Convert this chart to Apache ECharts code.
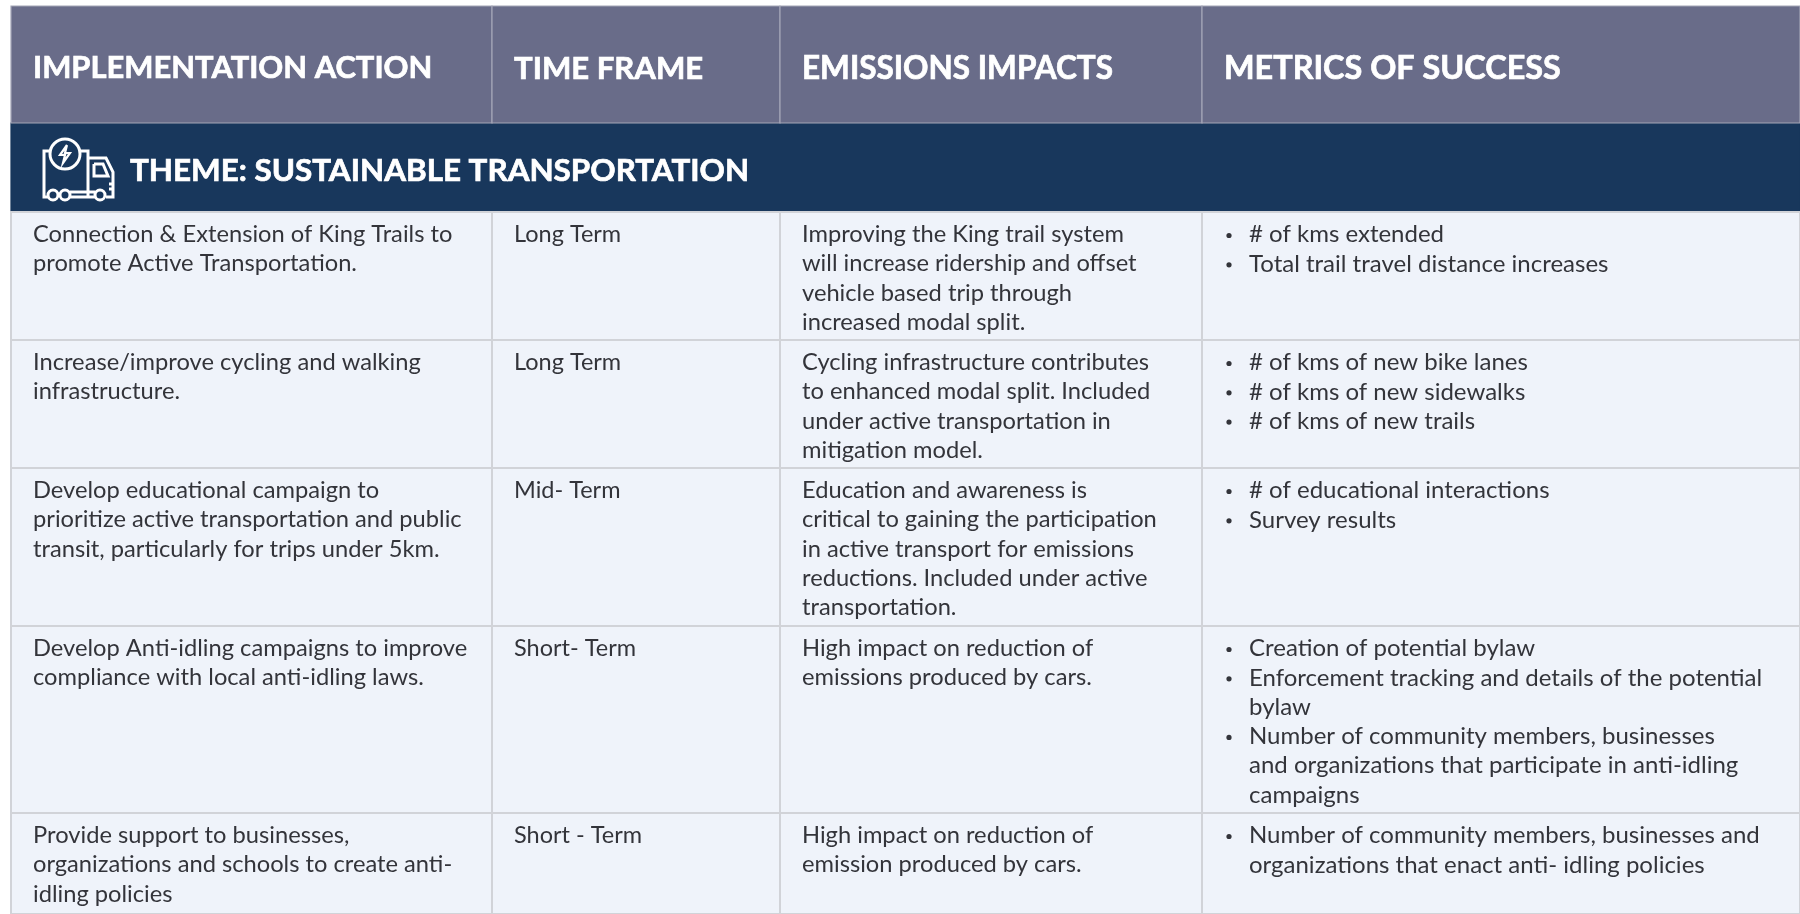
<!DOCTYPE html>
<html>
<head>
<meta charset="utf-8">
<style>html,body{margin:0;padding:0;background:#fff}#main{width:1800px;height:914px}</style>
<script src="https://cdn.jsdelivr.net/npm/echarts@6/dist/echarts.min.js"></script>
</head>
<body>
<div id="main"></div>
<script>
// table content, one string per printed line
var headers = ['IMPLEMENTATION ACTION', 'TIME FRAME', 'EMISSIONS IMPACTS', 'METRICS OF SUCCESS'];
var themeTitle = 'THEME: SUSTAINABLE TRANSPORTATION';
var actions = [
    ['Connection & Extension of King Trails to', 'promote Active Transportation.'],
    ['Increase/improve cycling and walking', 'infrastructure.'],
    ['Develop educational campaign to', 'prioritize active transportation and public', 'transit, particularly for trips under 5km.'],
    ['Develop Anti-idling campaigns to improve', 'compliance with local anti-idling laws.'],
    ['Provide support to businesses,', 'organizations and schools to create anti-', 'idling policies']
];
var timeFrames = [['Long Term'], ['Long Term'], ['Mid- Term'], ['Short- Term'], ['Short - Term']];
var impacts = [
    ['Improving the King trail system', 'will increase ridership and offset', 'vehicle based trip through', 'increased modal split.'],
    ['Cycling infrastructure contributes', 'to enhanced modal split. Included', 'under active transportation in', 'mitigation model.'],
    ['Education and awareness is', 'critical to gaining the participation', 'in active transport for emissions', 'reductions. Included under active', 'transportation.'],
    ['High impact on reduction of', 'emissions produced by cars.'],
    ['High impact on reduction of', 'emission produced by cars.']
];
// a leading "* " marks a bulleted line
var metrics = [
    ['* # of kms extended', '* Total trail travel distance increases'],
    ['* # of kms of new bike lanes', '* # of kms of new sidewalks', '* # of kms of new trails'],
    ['* # of educational interactions', '* Survey results'],
    ['* Creation of potential bylaw', '* Enforcement tracking and details of the potential', 'bylaw', '* Number of community members, businesses', 'and organizations that participate in anti-idling', 'campaigns'],
    ['* Number of community members, businesses and', 'organizations that enact anti- idling policies']
];

// layout
var colEdges = [11, 492, 780, 1202, 1800];
var rowEdges = [6, 123, 212, 340, 468, 626, 813, 914];
var textPad = 22;
var lineGap = 29.3;
var bodyFonts = ['23.7px Lato, sans-serif', '23.5px Lato, sans-serif', '23.7px Lato, sans-serif', '24px Lato, sans-serif'];
var headFonts = ['bold 30.9px Lato, sans-serif', 'bold 31.1px Lato, sans-serif', 'bold 31.5px Lato, sans-serif', 'bold 32.4px Lato, sans-serif'];
var themeFont = 'bold 31.4px Lato, sans-serif';

var myChart = echarts.init(document.getElementById('main'), null, {renderer: 'canvas'});

// [col, row, kind, lines], theme first so the header border stays on top of it
var cells = [[0, 1, 'theme', [themeTitle]]];
headers.forEach(function (h, c) { cells.push([c, 0, 'head', [h]]); });
[actions, timeFrames, impacts, metrics].forEach(function (col, c) {
    col.forEach(function (lines, r) { cells.push([c, r + 2, 'body', lines]); });
});

function renderCell(params, api) {
    var d = cells[params.dataIndex];
    var c = d[0], r = d[1], kind = d[2], lines = d[3];
    var colEnd = kind === 'theme' ? 4 : c + 1;
    var tl = api.coord([colEdges[c], rowEdges[r]]);
    var br = api.coord([colEdges[colEnd], rowEdges[r + 1]]);
    var fill = kind === 'head' ? '#696c89' : kind === 'theme' ? '#18375c' : '#eff3fa';
    var border = kind === 'head' ? '#a3a5b6' : kind === 'theme' ? '#18375c' : '#d1d3d8';
    var kids = [{
        type: 'rect',
        shape: {x: tl[0], y: tl[1], width: br[0] - tl[0], height: br[1] - tl[1]},
        style: {fill: fill, stroke: border, lineWidth: kind === 'body' ? 2 : 1.2}
    }];
    lines.forEach(function (line, i) {
        var x = tl[0] + textPad;
        var y, font, color, heavy = kind !== 'body';
        if (kind === 'head') {
            y = (tl[1] + br[1]) / 2 + 4; font = headFonts[c]; color = '#ffffff';
        } else if (kind === 'theme') {
            x = 130; y = (tl[1] + br[1]) / 2 + 3; font = themeFont; color = '#ffffff';
        } else {
            y = tl[1] + 22.5 + i * lineGap; font = bodyFonts[c]; color = '#33343a';
        }
        if (c === 3 && kind === 'body') {
            var bullet = line.indexOf('* ') === 0;
            if (bullet) {
                line = line.slice(2);
                kids.push({type: 'circle', shape: {cx: x + 5, cy: y + 1, r: 2.6}, style: {fill: '#33343a'}});
            }
            x += 25;
        }
        var style = {x: x, y: y, text: line, font: font, fill: color, textAlign: 'left', textVerticalAlign: 'middle'};
        if (heavy) {
            // no black weight installed, thicken the bold a little
            style.stroke = '#ffffff';
            style.lineWidth = 0.7;
        }
        kids.push({type: 'text', style: style});
    });
    return {type: 'group', children: kids};
}

function iconLine(points, width) {
    return {type: 'polyline', z: 10, shape: {points: points}, style: {fill: 'none', stroke: '#ffffff', lineWidth: width || 3}};
}
function iconRing(cx, cy, r) {
    return {type: 'circle', z: 11, shape: {cx: cx, cy: cy, r: r}, style: {fill: '#18375c', stroke: '#ffffff', lineWidth: 3}};
}

var option = {
    animation: false,
    backgroundColor: '#ffffff',
    grid: {left: 0, right: 0, top: 0, bottom: 0},
    xAxis: {type: 'value', min: 0, max: 1800, show: false},
    yAxis: {type: 'value', min: 0, max: 914, inverse: true, show: false},
    series: [{
        type: 'custom',
        coordinateSystem: 'cartesian2d',
        clip: false,
        silent: true,
        z: 1,
        renderItem: renderCell,
        data: cells.map(function (d) { return [colEdges[d[0]], rowEdges[d[1]]]; })
    }],
    // truck icon in the theme band
    graphic: [
        iconLine([[52, 151], [44, 151], [44, 197], [50, 197]]),
        iconLine([[80, 151], [88, 151], [88, 197]]),
        iconLine([[70, 197], [95, 197]]),
        iconLine([[70, 192], [95, 192]]),
        iconLine([[88, 158], [106, 158], [113, 172], [113, 197], [106, 197]]),
        iconLine([[94, 164], [103, 164], [108, 176], [94, 176], [94, 164]]),
        iconLine([[109, 184], [113, 184]]),
        iconLine([[109, 189], [113, 189]]),
        iconRing(65, 154, 15),
        {type: 'polyline', z: 12, shape: {points: [[67, 145], [60, 155], [65, 155], [63, 163], [70, 153], [65, 153], [67, 145]]},
            style: {fill: 'none', stroke: '#ffffff', lineWidth: 2.2}},
        iconRing(53, 195, 5),
        iconRing(65, 195, 5),
        iconRing(100, 195, 5)
    ]
};
myChart.setOption(option);
</script>
</body>
</html>
